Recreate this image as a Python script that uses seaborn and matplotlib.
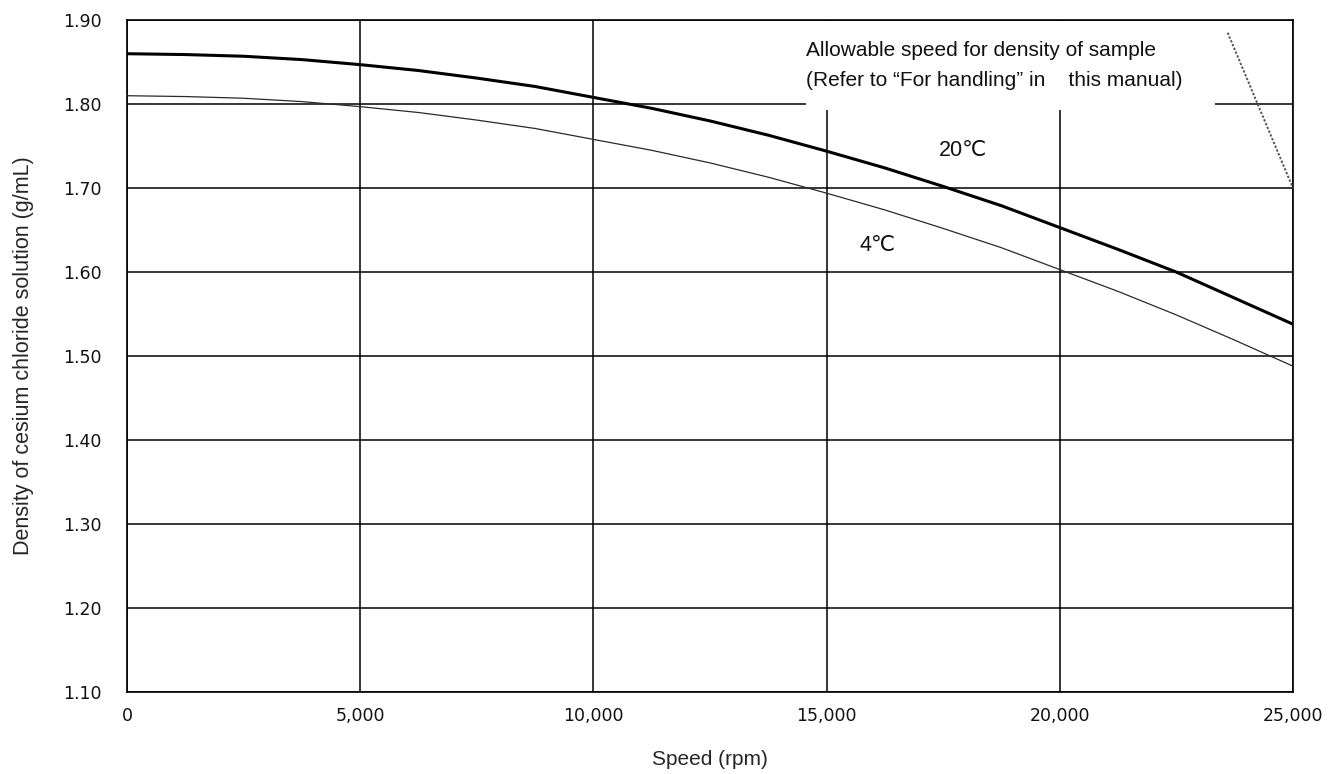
import pandas as pd
import seaborn as sns
import matplotlib.pyplot as plt
from matplotlib.patches import Rectangle

# values
speed = [0, 1250, 2500, 3750, 5000, 6250, 7500, 8750, 10000, 11250, 12500,
         13750, 15000, 16250, 17500, 18750, 20000, 21250, 22500, 23750, 25000]
dens_20c = [1.860, 1.859, 1.857, 1.853, 1.847, 1.840, 1.831, 1.821, 1.808, 1.795, 1.780,
            1.763, 1.744, 1.724, 1.702, 1.679, 1.653, 1.627, 1.600, 1.569, 1.538]
dens_4c = [1.810, 1.809, 1.807, 1.803, 1.797, 1.790, 1.781, 1.771, 1.758, 1.745, 1.730,
           1.713, 1.694, 1.674, 1.652, 1.629, 1.603, 1.577, 1.549, 1.519, 1.488]
limit_speed = [23600, 25000]
limit_dens = [1.885, 1.700]
xticks = [0, 5000, 10000, 15000, 20000, 25000]
yticks = [1.10, 1.20, 1.30, 1.40, 1.50, 1.60, 1.70, 1.80, 1.90]

df = pd.DataFrame({
    'speed': speed * 2,
    'density': dens_20c + dens_4c,
    'temp': ['20℃'] * len(speed) + ['4℃'] * len(speed),
})

sns.set_style('white')
plt.rcParams['font.family'] = ['Liberation Sans', 'DejaVu Sans']

fig = plt.figure(figsize=(13.32, 7.74), dpi=100)
ax = fig.add_axes([0.0953, 0.1059, 0.8754, 0.8681])

sns.lineplot(data=df, x='speed', y='density', hue='temp', size='temp',
             sizes={'20℃': 2.2, '4℃': 0.9}, palette={'20℃': 'black', '4℃': '#2a2a2a'},
             legend=False, ax=ax, zorder=3)
ax.plot(limit_speed, limit_dens, ls=(0, (1.2, 0.9)), color='#555555', lw=1.4, zorder=3)

ax.set_xlim(0, 25000)
ax.set_ylim(1.10, 1.90)
ax.set_xticks(xticks)
ax.set_yticks(yticks)
ax.set_xticklabels([f'{v:,}' for v in xticks])
ax.set_yticklabels([f'{v:.2f}' for v in yticks])
ax.grid(True, color='black', lw=1.1, zorder=1)
ax.set_axisbelow(True)
for s in ax.spines.values():
    s.set_color('black')
    s.set_linewidth(1.2)
ax.tick_params(axis='x', length=0, pad=11, labelsize=12.5)
ax.tick_params(axis='y', length=0, pad=18, labelsize=12.5)
for lab in ax.get_xticklabels() + ax.get_yticklabels():
    lab.set_family(['Liberation Sans Narrow', 'DejaVu Sans Condensed', 'DejaVu Sans'])
    lab.set_color('#111111')

ax.set_xlabel('Speed (rpm)', fontsize=15, labelpad=18)
ax.set_ylabel('Density of cesium chloride solution (g/mL)', fontsize=15.5, labelpad=21)

# white box behind the note, covering the grid
ax.add_patch(Rectangle((0.5823, 0.866), 0.351, 0.132, transform=ax.transAxes,
                       facecolor='white', edgecolor='none', zorder=2))
ax.text(0.5823, 0.9554, 'Allowable speed for density of sample', transform=ax.transAxes,
        fontsize=15, va='center', ha='left', color='#111111', zorder=4)
ax.text(0.5823, 0.9107, '(Refer to “For handling” in    this manual)', transform=ax.transAxes,
        fontsize=15, va='center', ha='left', color='#111111', zorder=4)
ax.text(17400, 1.745, '20℃', fontsize=15.5, va='center', ha='left', color='#111111', zorder=4)
ax.text(15700, 1.632, '4℃', fontsize=15.5, va='center', ha='left', color='#111111', zorder=4)

fig.savefig('out.png', dpi=100)
